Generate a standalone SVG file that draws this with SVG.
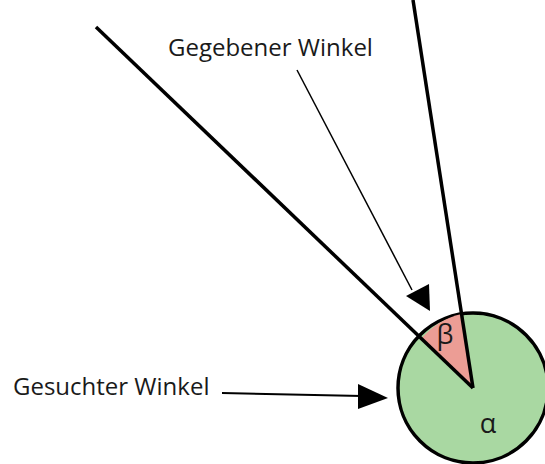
<svg xmlns="http://www.w3.org/2000/svg" width="545" height="464" viewBox="0 0 545 464">
<style>
.t{font-family:"Open Sans","DejaVu Sans",sans-serif;font-size:24px;fill:#1a1a1a}
.g{font-family:"Open Sans","DejaVu Sans",sans-serif;font-size:27px;fill:#1a1a1a}
.ln{stroke:#000;fill:none}
</style>
<rect width="545" height="464" fill="#fff"/>
<g id="circle">
<circle cx="473" cy="388" r="75" fill="#a9d8a2" stroke="#000" stroke-width="3.5"/>
<path d="M473,388 L421.3,338.6 A75,75 0 0 1 461.6,313.9 Z" fill="#ec9d95"/>
<text class="g" x="445" y="344" text-anchor="middle">β</text>
<text class="g" x="488" y="433" text-anchor="middle">α</text>
</g>
<g id="rays">
<line class="ln" x1="96" y1="27" x2="473" y2="388" stroke-width="3.5"/>
<line class="ln" x1="413" y1="0" x2="473" y2="388" stroke-width="3.5"/>
</g>
<g id="label-given">
<text class="t" x="168" y="56">Gegebener Winkel</text>
</g>
<g id="label-sought">
<text class="t" x="13" y="395">Gesuchter Winkel</text>
</g>
<g id="connectors">
<line class="ln" x1="297" y1="70" x2="412" y2="290" stroke-width="1.5"/>
<path d="M406,296 L429,284 L430,311 Z" fill="#000"/>
<line class="ln" x1="222" y1="393" x2="362" y2="396" stroke-width="2"/>
<path d="M358,384 L388,398 L358,409 Z" fill="#000"/>
</g>
</svg>
